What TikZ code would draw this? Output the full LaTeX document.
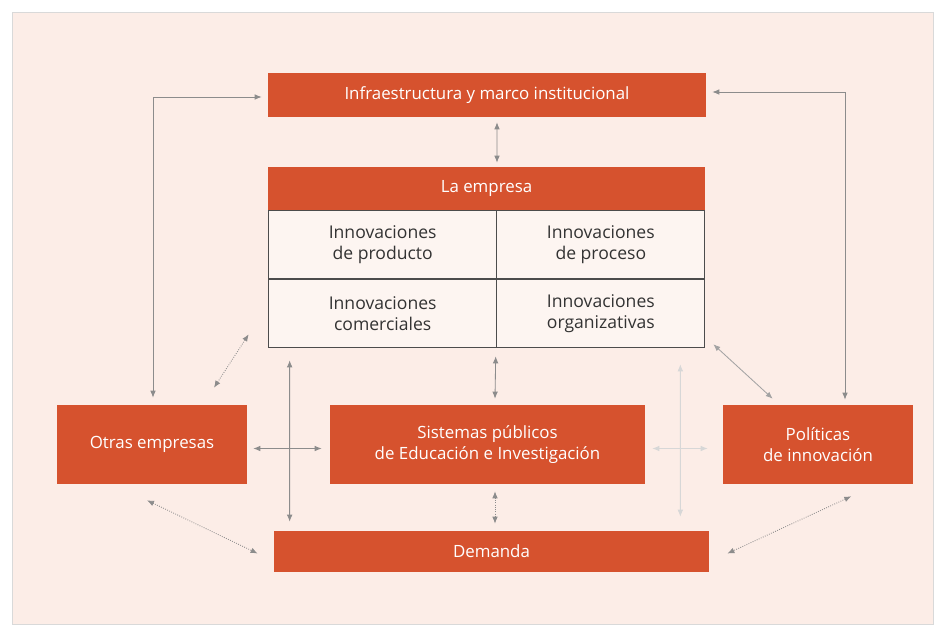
\documentclass[tikz,border=0pt]{standalone}
\usepackage{fontspec}
\setmainfont{Open Sans}
\usepackage{tikz}
\usetikzlibrary{positioning,calc,arrows.meta}
\definecolor{naranja}{RGB}{214,82,46}
\definecolor{fondo}{RGB}{252,237,231}
\definecolor{celdafondo}{RGB}{253,245,241}
\definecolor{flecha}{RGB}{140,140,140}

\begin{document}
\begin{tikzpicture}[x = .025cm, y = -.025cm,
  caja/.style = {fill = naranja, text = white, inner sep = 0pt, align = center, font = \fontsize{12}{14.5}\selectfont},
  celda/.style = {draw = black!70, line width = .7pt, fill = celdafondo, text = black!80, inner sep = 0pt, align = center,
    minimum height = 1.7cm, font = \fontsize{12.5}{14.5}\selectfont},
  flechas/.style = {draw = flecha, line width = .6pt, {Latex[length=5pt,width=4pt]}-{Latex[length=5pt,width=4pt]}},
  punteada/.style = {flechas, densely dotted},
  tenue/.style = {flechas, draw = flecha!35}]
\fill[white] (0,0) rectangle (947,627);
\draw[fill = fondo, draw = black!15] (12,12) rectangle (933,624);
\useasboundingbox (0,0) rectangle (947,627);

\node[caja, minimum width = 10.95cm, minimum height = 1.1cm] (infra) at (487,95) {Infraestructura y marco institucional};
\node[caja, minimum width = 10.925cm, minimum height = 1.075cm] (empresa) at (486.5,188.5) {La empresa};
\node[celda, minimum width = 5.725cm, anchor = north west] (prod) at (empresa.south west) {Innovaciones\\de producto};
\node[celda, minimum width = 5.2cm, anchor = north east] (proc) at (empresa.south east) {Innovaciones\\de proceso};
\node[celda, minimum width = 5.725cm, anchor = north] (com) at (prod.south) {Innovaciones\\comerciales};
\node[celda, minimum width = 5.2cm, anchor = north] (org) at (proc.south) {Innovaciones\\organizativas};

\node[caja, minimum width = 4.75cm, minimum height = 1.975cm] (otras) at (152,444.5) {Otras empresas};
\node[caja, minimum width = 7.875cm, minimum height = 1.975cm] (sis) at (487.5,444.5) {Sistemas públicos\\de Educación e Investigación};
\node[caja, minimum width = 4.75cm, minimum height = 1.975cm] (pol) at (818,444.5) {Políticas\\de innovación};
\node[caja, minimum width = 10.875cm, minimum height = 1.025cm] (dem) at (491.5,551.5) {Demanda};

\draw[flechas] ($(infra.south)+(10,5)$) -- ($(empresa.north)+(10.5,-4)$);
\draw[flechas] ($(otras.north)+(1,-7)$) |- ($(infra.west)+(-6,2)$);
\draw[flechas] ($(pol.north)+(27,-5)$) |- ($(infra.east)+(6,-3)$);
\draw[punteada] ($(otras.north)+(62,-17)$) -- ($(com.south west)+(-19,-14)$);
\draw[flechas] ($(com.south west)+(22,12)$) -- ($(dem.north west)+(16,-9)$);
\draw[flechas] ($(otras.east)+(6,4)$) -- ($(sis.west)+(-8,4)$);
\draw[flechas] ($(com.south east)+(-2,8)$) -- ($(sis.north)+(7.5,-6)$);
\draw[punteada] ($(sis.south)+(7.5,7)$) -- ($(dem.north)+(3.5,-7)$);
\draw[tenue] ($(org.south east)+(-25,16)$) -- ($(dem.north east)+(-29,-14)$);
\draw[tenue] ($(sis.east)+(7,4)$) -- ($(pol.west)+(-15,4)$);
\draw[flechas, draw = flecha!80] ($(org.south east)+(8,-4)$) -- ($(pol.north west)+(50,-6)$);
\draw[punteada] ($(pol.south east)+(-62,12)$) -- ($(dem.east)+(18,2)$);
\draw[punteada] ($(otras.south)+(-5,16)$) -- ($(dem.west)+(-16,2)$);
\end{tikzpicture}
\end{document}
